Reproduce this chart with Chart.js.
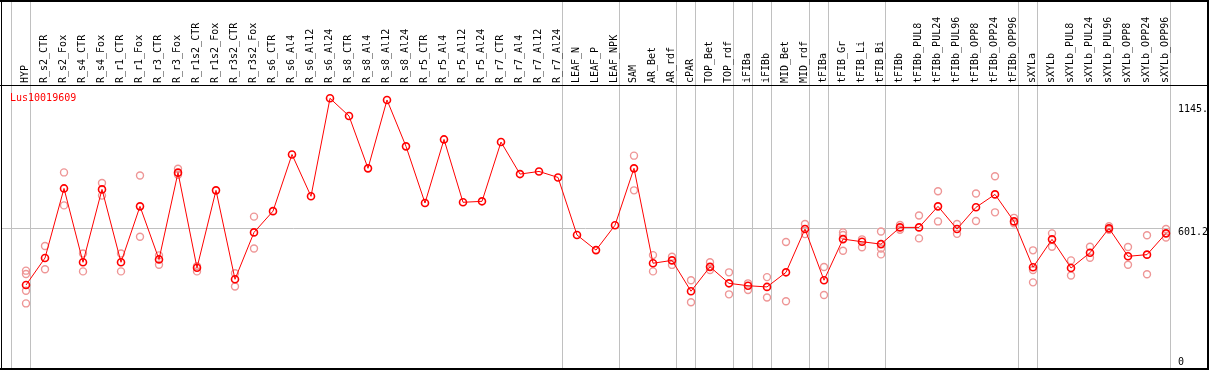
<!DOCTYPE html>
<html>
<head>
<meta charset="utf-8">
<script src="https://cdn.jsdelivr.net/npm/chart.js@4/dist/chart.umd.min.js"></script>
<style>
  body { margin: 0; background: #fff; }
  canvas { display: block; }
</style>
</head>
<body>
<canvas id="expr" width="1209" height="370"></canvas>
<script>
const geneName = 'Lus10019609';

const categories = [
    'HYP', 'R_s2_CTR', 'R_s2_Fox', 'R_s4_CTR', 'R_s4_Fox', 'R_r1_CTR', 'R_r1_Fox',
    'R_r3_CTR', 'R_r3_Fox', 'R_r1s2_CTR', 'R_r1s2_Fox', 'R_r3s2_CTR', 'R_r3s2_Fox',
    'R_s6_CTR', 'R_s6_Al4', 'R_s6_Al12', 'R_s6_Al24', 'R_s8_CTR', 'R_s8_Al4',
    'R_s8_Al12', 'R_s8_Al24', 'R_r5_CTR', 'R_r5_Al4', 'R_r5_Al12', 'R_r5_Al24',
    'R_r7_CTR', 'R_r7_Al4', 'R_r7_Al12', 'R_r7_Al24', 'LEAF_N', 'LEAF_P', 'LEAF_NPK',
    'SAM', 'AR_Bet', 'AR_rdf', 'cPAR', 'TOP_Bet', 'TOP_rdf', 'iFIBa', 'iFIBb',
    'MID_Bet', 'MID_rdf', 'tFIBa', 'tFIB_Gr', 'tFIB_Li', 'tFIB_Bi', 'tFIBb',
    'tFIBb_PUL8', 'tFIBb_PUL24', 'tFIBb_PUL96', 'tFIBb_OPP8', 'tFIBb_OPP24', 'tFIBb_OPP96',
    'sXYLa', 'sXYLb', 'sXYLb_PUL8', 'sXYLb_PUL24', 'sXYLb_PUL96', 'sXYLb_OPP8',
    'sXYLb_OPP24', 'sXYLb_OPP96'
];

// mean expression per sample
const means = [
    364, 477, 768, 459, 764, 459, 693, 471, 834, 436, 760, 388, 584,
    673, 910, 735, 1145, 1071, 852, 1138, 944, 707, 973, 710, 714,
    962, 828, 839, 814, 573, 510, 614,
    852, 455, 467, 338, 440, 371, 361, 356, 417, 598, 384, 556, 545, 535,
    605, 605, 693, 598, 689, 743, 630,
    438, 555, 435, 499, 601, 484, 491, 580
];

// individual replicates per sample
const replicates = [
    [424, 410, 340, 287], [527, 430], [835, 697], [496, 421], [791, 738], [496, 421],
    [822, 566], [488, 449], [850, 825], [443, 421], [], [413, 358], [650, 517],
    [], [], [], [], [], [], [], [], [], [], [], [],
    [], [], [], [], [], [], [],
    [905, 760], [489, 421], [482, 448], [384, 292], [459, 427], [417, 325],
    [371, 343], [397, 312], [544, 296], [619, 577], [439, 322], [584, 573, 507],
    [555, 522], [588, 517, 492],
    [615, 595], [655, 559], [756, 630], [619, 578], [747, 632], [819, 668], [645, 622],
    [509, 427, 375], [580, 524], [467, 404], [524, 478], [610, 595], [523, 449],
    [572, 409], [598, 563]
];

// last sample index of each group (grey separators)
const groupEnds = [-1, 0, 28, 31, 34, 35, 37, 38, 39, 41, 42, 45, 52, 53, 60];

const yTicks = [1145, 601.2, 0];
const yTickLabels = ['1145.', '601.2', '0'];

const FONT = '10px "DejaVu Sans Mono", monospace';

let meanPoints = means.map((v, i) => ({ x: i, y: v }));
let repPoints = [];
replicates.forEach((reps, i) => {
    reps.forEach(v => repPoints.push({ x: i, y: v }));
});

const frame = {
    id: 'frame',
    beforeDatasetsDraw(chart) {
        const ctx = chart.ctx;
        const x = chart.scales.x;
        const y = chart.scales.y;
        ctx.save();
        ctx.strokeStyle = '#c0c0c0';
        ctx.lineWidth = 1;
        // group separators
        groupEnds.forEach(g => {
            let px = Math.round(x.getPixelForValue(g + 0.2)) + 0.5;
            ctx.beginPath();
            ctx.moveTo(px, 0);
            ctx.lineTo(px, 369);
            ctx.stroke();
        });
        // horizontal grid at middle tick
        let gy = Math.round(y.getPixelForValue(yTicks[1])) + 0.5;
        ctx.beginPath();
        ctx.moveTo(1, gy);
        ctx.lineTo(Math.round(x.getPixelForValue(60.2)), gy);
        ctx.stroke();
        ctx.restore();
    },
    afterDatasetsDraw(chart) {
        const ctx = chart.ctx;
        const x = chart.scales.x;
        const y = chart.scales.y;
        ctx.save();
        ctx.fillStyle = '#fff';
        ctx.fillRect(0, 0, 1209, 85);
        // re-draw separators through the header
        ctx.strokeStyle = '#c0c0c0';
        groupEnds.forEach(g => {
            let px = Math.round(x.getPixelForValue(g + 0.2)) + 0.5;
            ctx.beginPath();
            ctx.moveTo(px, 0);
            ctx.lineTo(px, 85);
            ctx.stroke();
        });

        ctx.fillStyle = '#000';
        ctx.font = FONT;
        ctx.textAlign = 'left';
        ctx.textBaseline = 'middle';
        categories.forEach((c, i) => {
            ctx.save();
            ctx.translate(x.getPixelForValue(i) - 0.5, 83);
            ctx.rotate(-Math.PI / 2);
            ctx.fillText(c, 0, 0);
            ctx.restore();
        });

        yTicks.forEach((t, i) => {
            let py = Math.min(Math.max(y.getPixelForValue(t) + 4.5, 109), 362);
            ctx.fillText(yTickLabels[i], 1178, py);
        });

        ctx.fillStyle = '#ff0000';
        ctx.fillText(geneName, 10, 98);

        // borders
        ctx.fillStyle = '#000';
        ctx.fillRect(0, 0, 1209, 2);
        ctx.fillRect(0, 85, 1209, 1);
        ctx.fillRect(1, 0, 1, 370);
        ctx.fillRect(1207, 0, 2, 370);
        ctx.fillRect(0, 368, 1209, 2);
        ctx.restore();
    }
};

const config = {
    type: 'scatter',
    data: {
        datasets: [{
            label: 'mean',
            data: meanPoints,
            showLine: true,
            borderColor: '#ff0000',
            borderWidth: 1,
            pointRadius: 3.5,
            pointBorderWidth: 1.6,
            pointBorderColor: '#ff0000',
            pointBackgroundColor: 'rgba(0,0,0,0)',
            tension: 0
        }, {
            label: 'replicates',
            data: repPoints,
            showLine: false,
            pointRadius: 3.5,
            pointBorderWidth: 1.4,
            pointBorderColor: 'rgb(238,150,150)',
            pointBackgroundColor: 'rgba(0,0,0,0)'
        }]
    },
    options: {
        responsive: false,
        animation: false,
        layout: { padding: 0, autoPadding: false },
        plugins: {
            legend: { display: false },
            tooltip: { enabled: false }
        },
        scales: {
            x: { type: 'linear', display: false, min: -26 / 19, max: -26 / 19 + 1209 / 19 },
            y: { type: 'linear', display: false, min: 8.45, max: 1556.2 }
        }
    },
    plugins: [frame]
};

new Chart(document.getElementById('expr'), config);
</script>
</body>
</html>
